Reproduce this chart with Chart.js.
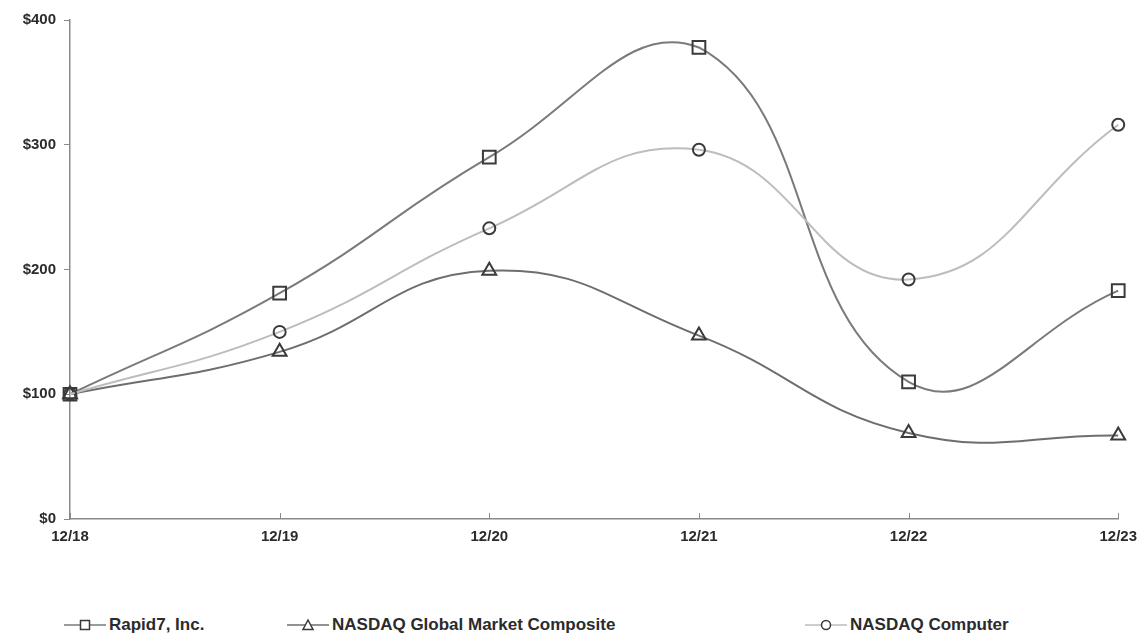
<!DOCTYPE html>
<html lang="en">
<head>
  <meta charset="UTF-8">
  <title>Rapid7 - Comparison of Cumulative Total Return</title>
  <script src="https://cdn.jsdelivr.net/npm/chart.js@4.4.1/dist/chart.umd.min.js"></script>
  <style>
    body {
      margin: 0;
      background: #fff;
      font-family: 'Liberation Sans', Arial, sans-serif;
    }

    .wrap {
      position: relative;
      width: 1146px;
      height: 641px;
    }

    #returnChart {
      position: absolute;
      left: 0;
      top: 0;
    }

    .legend {
      position: absolute;
      top: 615px;
      left: 0;
      width: 1146px;
      height: 24px;
    }

    .legend-item {
      position: absolute;
      top: 0;
      display: flex;
      align-items: center;
      font-weight: bold;
      font-size: 17px;
      color: #2b2b2b;
    }

    .legend-item canvas {
      margin-right: 3px;
    }
  </style>
</head>
<body>
<div class="wrap">
  <canvas id="returnChart" width="1146" height="560"></canvas>
  <div class="legend" id="legend"></div>
</div>

<script>
  // values
  const years = ["12/18", "12/19", "12/20", "12/21", "12/22", "12/23"];
  const rapid7 = [100, 181, 290, 378, 110, 183];
  const nasdaqGlobal = [100, 134, 199, 147, 69, 67];
  const nasdaqComputer = [100, 150, 233, 296, 192, 316];
  const yTicks = [0, 100, 200, 300, 400];

  const seriesNames = ["Rapid7, Inc.", "NASDAQ Global Market Composite", "NASDAQ Computer"];
  const lineColors = ["#7a7a7a", "#6e6e6e", "#bdbdbd"];
  const markers = ["rect", "triangle", "circle"];
  const markerSizes = [9, 8, 6];
  const legendLeft = [64, 287, 805];

  const markerColor = "#3a3a3a";
  const tickFont = { family: "'Liberation Sans', Arial, sans-serif", size: 15, weight: 'bold' };

  function makeSeries(i, values) {
    return {
      label: seriesNames[i],
      data: values,
      borderColor: lineColors[i],
      borderWidth: 2,
      tension: 0.45,
      fill: false,
      pointStyle: markers[i],
      pointRadius: markerSizes[i],
      pointBorderWidth: 2,
      pointBorderColor: markerColor,
      pointBackgroundColor: "rgba(255,255,255,0)"
    };
  }

  // small upward tick marks on the x axis
  const xTickMarks = {
    id: 'xTickMarks',
    afterDatasetsDraw(chart) {
      const ctx = chart.ctx;
      const x = chart.scales.x;
      ctx.save();
      ctx.strokeStyle = "#8a8a8a";
      ctx.lineWidth = 1;
      x.ticks.forEach((t, i) => {
        const px = Math.round(x.getPixelForTick(i)) + 0.5;
        ctx.beginPath();
        ctx.moveTo(px, x.top);
        ctx.lineTo(px, x.top - 6);
        ctx.stroke();
      });
      ctx.restore();
    }
  };

  new Chart(document.getElementById("returnChart"), {
    type: 'line',
    data: {
      labels: years,
      datasets: [
        makeSeries(0, rapid7),
        makeSeries(1, nasdaqGlobal),
        makeSeries(2, nasdaqComputer)
      ].reverse()
    },
    options: {
      responsive: false,
      animation: false,
      layout: { padding: { top: 20, right: 26, left: 0, bottom: 0 } },
      plugins: {
        legend: { display: false },
        tooltip: { enabled: false }
      },
      scales: {
        x: {
          offset: false,
          grid: { display: true, drawOnChartArea: false, drawTicks: false },
          border: { color: "#8a8a8a", width: 1.5 },
          ticks: {
            padding: 9,
            color: "#2b2b2b",
            font: tickFont,
            maxRotation: 0
          },
          afterFit(scale) { scale.height = 41; }
        },
        y: {
          min: 0,
          max: 400,
          afterBuildTicks(scale) { scale.ticks = yTicks.map(v => ({ value: v })); },
          grid: { drawOnChartArea: false, drawTicks: true, tickLength: 6, color: "#8a8a8a" },
          border: { color: "#8a8a8a", width: 1.5 },
          ticks: {
            padding: 8,
            color: "#2b2b2b",
            font: tickFont,
            callback: v => "$" + v
          },
          afterFit(scale) { scale.width = 70; }
        }
      }
    },
    plugins: [xTickMarks]
  });

  // legend: short line with the series marker in the middle
  function legendIcon(i) {
    const c = document.createElement("canvas");
    c.width = 42;
    c.height = 16;
    const ctx = c.getContext("2d");
    ctx.strokeStyle = lineColors[i];
    ctx.lineWidth = 1.5;
    ctx.beginPath();
    ctx.moveTo(0, 8);
    ctx.lineTo(42, 8);
    ctx.stroke();
    ctx.fillStyle = "#fff";
    ctx.strokeStyle = markerColor;
    ctx.lineWidth = 1.5;
    ctx.beginPath();
    if (markers[i] === "rect") {
      ctx.rect(16.5, 3.5, 9, 9);
    } else if (markers[i] === "triangle") {
      ctx.moveTo(21, 3);
      ctx.lineTo(26, 12.5);
      ctx.lineTo(16, 12.5);
      ctx.closePath();
    } else {
      ctx.arc(21, 8, 4.5, 0, Math.PI * 2);
    }
    ctx.fill();
    ctx.stroke();
    return c;
  }

  const legend = document.getElementById("legend");
  seriesNames.forEach((name, i) => {
    const item = document.createElement("div");
    item.className = "legend-item";
    item.style.left = legendLeft[i] + "px";
    item.appendChild(legendIcon(i));
    const span = document.createElement("span");
    span.textContent = name;
    item.appendChild(span);
    legend.appendChild(item);
  });
</script>
</body>
</html>
